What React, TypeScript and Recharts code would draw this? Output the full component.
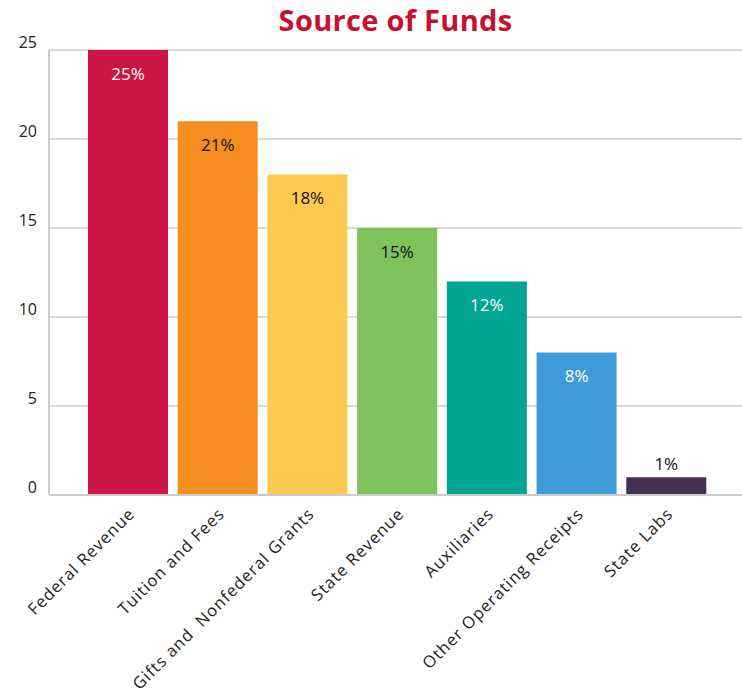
import React from 'react'
import { BarChart, Bar, XAxis, YAxis, CartesianGrid, Cell, LabelList } from 'recharts'

const categories = [
  'Federal Revenue',
  'Tuition and Fees',
  'Gifts and  Nonfederal Grants',
  'State Revenue',
  'Auxiliaries',
  'Other Operating Receipts',
  'State Labs',
]
const shares = [25, 21, 18, 15, 12, 8, 1]
const barColors = ['#cc1543', '#f58d1f', '#fec94f', '#7dc25b', '#00a596', '#3e9cd8', '#463152']
const labelColors = ['#ffffff', '#111111', '#111111', '#111111', '#ffffff', '#ffffff', '#111111']
const yTicks = [0, 5, 10, 15, 20, 25]

const data = categories.map((name, i) => ({ name, value: shares[i] }))

const FONT = '"Open Sans", Lato, sans-serif'

function YTick({ y, payload }: any) {
  return (
    <text x={37} y={y - 6} textAnchor="end" dominantBaseline="middle" fontSize={16} fill="#222" fontFamily={FONT}>
      {payload.value}
    </text>
  )
}

function XTick({ x, y, payload }: any) {
  return (
    <text
      x={x + 8}
      y={y + 12}
      textAnchor="end"
      fontSize={16.5}
      fill="#222"
      fontFamily={FONT}
      letterSpacing={1}
      style={{ whiteSpace: 'pre' }}
      transform={`rotate(-45 ${x + 8} ${y + 12})`}
    >
      {payload.value}
    </text>
  )
}

function BarLabel({ x, y, width, height, value, index }: any) {
  // small bars get the label above
  const inside = height > 30
  return (
    <text
      x={x + width / 2}
      y={inside ? y + 25 : y - 12}
      textAnchor="middle"
      dominantBaseline="middle"
      fontSize={17}
      fill={labelColors[index]}
      fontFamily={FONT}
    >
      {value}%
    </text>
  )
}

export default function App() {
  return (
    <div style={{ position: 'absolute', left: 0, top: 0, width: 742, height: 691, background: '#fff' }}>
      <div
        style={{
          position: 'absolute',
          left: 49,
          right: 0,
          top: 0,
          textAlign: 'center',
          fontFamily: FONT,
          fontWeight: 700,
          fontSize: 29,
          letterSpacing: 0.3,
          color: '#c8102e',
        }}
      >
        Source of Funds
      </div>
      <BarChart width={742} height={691} data={data} margin={{ top: 50, right: 0, bottom: 0, left: 0 }}>
        <CartesianGrid vertical={false} stroke="#d9d9d9" strokeWidth={2} />
        <XAxis
          dataKey="name"
          interval={0}
          height={196}
          padding={{ left: 34, right: 31 }}
          axisLine={{ stroke: '#cccccc', strokeWidth: 2 }}
          tickLine={false}
          tick={<XTick />}
        />
        <YAxis
          width={49}
          domain={[0, 25]}
          ticks={yTicks}
          axisLine={{ stroke: '#cccccc', strokeWidth: 2 }}
          tickLine={false}
          tick={<YTick />}
        />
        <Bar dataKey="value" barSize={80} isAnimationActive={false}>
          {data.map((d, i) => (
            <Cell key={d.name} fill={barColors[i]} />
          ))}
          <LabelList dataKey="value" content={<BarLabel />} />
        </Bar>
      </BarChart>
    </div>
  )
}
